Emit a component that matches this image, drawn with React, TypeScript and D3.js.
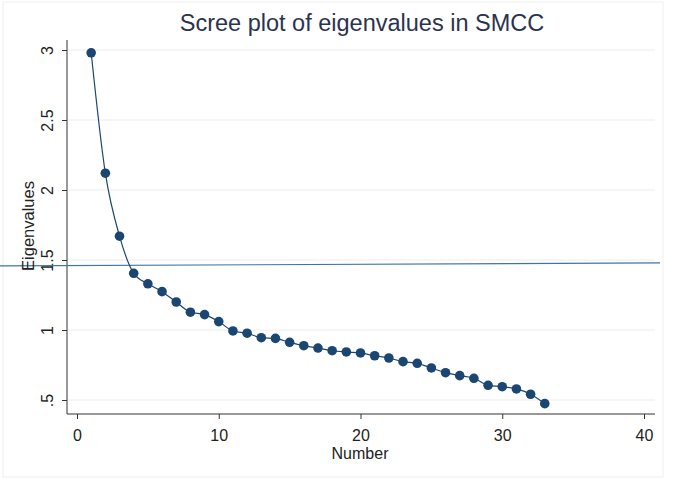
import React, { useEffect, useRef } from "react";
import * as d3 from "d3";

const numbers = d3.range(1, 34);
const eigenvalues = [
  2.98, 2.12, 1.67, 1.405, 1.33, 1.274, 1.2, 1.127, 1.11, 1.06, 0.993, 0.977,
  0.945, 0.94, 0.912, 0.888, 0.871, 0.852, 0.843, 0.836, 0.816, 0.8, 0.774,
  0.762, 0.729, 0.695, 0.674, 0.655, 0.605, 0.595, 0.579, 0.541, 0.474
];
const xTicks = [0, 10, 20, 30, 40];
const yTicks = [0.5, 1, 1.5, 2, 2.5, 3];
const yTickLabels = [".5", "1", "1.5", "2", "2.5", "3"];
const refLine = 1.465;

const width = 673;
const height = 480;
const plot = { left: 67, right: 655, top: 40, bottom: 414 };
const font = "Liberation Sans, Arial, sans-serif";
const navy = "#1b4672";

const draw = (node: SVGSVGElement) => {
  const svg = d3.select(node);
  svg.selectAll("*").remove();

  const x = d3.scaleLinear().domain([0, 40]).range([77, 644]);
  const y = d3.scaleLinear().domain([0.5, 3]).range([400, 50]);

  svg
    .append("rect")
    .attr("x", 3)
    .attr("y", 2)
    .attr("width", 660)
    .attr("height", 475)
    .attr("fill", "#fff")
    .attr("stroke", "#efefef");

  // grid
  svg
    .append("g")
    .selectAll("line")
    .data(yTicks)
    .enter()
    .append("line")
    .attr("x1", plot.left + 1)
    .attr("x2", plot.right)
    .attr("y1", d => y(d))
    .attr("y2", d => y(d))
    .attr("stroke", "#ececec")
    .attr("stroke-width", 1);

  // axes
  const xAxis = svg
    .append("g")
    .attr("transform", "translate(0," + plot.bottom + ")")
    .call(d3.axisBottom(x).tickValues(xTicks).tickSize(5).tickSizeOuter(0).tickFormat(d3.format("d")));
  xAxis.select(".domain").attr("d", `M${plot.left},0H${plot.right}`).attr("stroke", "#333");
  xAxis.selectAll("line").attr("stroke", "#333");
  xAxis
    .selectAll("text")
    .attr("font-family", font)
    .attr("font-size", 16)
    .attr("fill", "#222")
    .attr("y", 27)
    .attr("dy", 0);

  const yAxis = svg
    .append("g")
    .attr("transform", "translate(" + plot.left + ",0)")
    .call(
      d3
        .axisLeft(y)
        .tickValues(yTicks)
        .tickSize(5)
        .tickSizeOuter(0)
        .tickFormat((d, i) => yTickLabels[i])
    );
  yAxis.select(".domain").attr("d", `M0,${plot.top}V${plot.bottom}`).attr("stroke", "#333");
  yAxis.selectAll("line").attr("stroke", "#333");
  yAxis
    .selectAll("text")
    .attr("font-family", font)
    .attr("font-size", 16)
    .attr("fill", "#222")
    .attr("text-anchor", "middle")
    .attr("x", 0)
    .attr("dy", 0)
    .attr("transform", "translate(-14,0) rotate(-90)");

  // reference line
  svg
    .append("line")
    .attr("x1", 0)
    .attr("x2", 660)
    .attr("y1", y(refLine) + 1)
    .attr("y2", y(refLine) - 2)
    .attr("stroke", "#3f73ad")
    .attr("stroke-width", 1.2);

  const pts = numbers.map((n, i) => ({ n, v: eigenvalues[i] }));
  const line = d3
    .line<{ n: number; v: number }>()
    .x(d => x(d.n))
    .y(d => y(d.v))
    .curve(d3.curveMonotoneX);
  svg
    .append("path")
    .datum(pts)
    .attr("d", line)
    .attr("fill", "none")
    .attr("stroke", navy)
    .attr("stroke-width", 1.2);
  svg
    .append("g")
    .selectAll("circle")
    .data(pts)
    .enter()
    .append("circle")
    .attr("cx", d => x(d.n))
    .attr("cy", d => y(d.v))
    .attr("r", 4.8)
    .attr("fill", navy);

  // titles
  svg
    .append("text")
    .attr("x", 362)
    .attr("y", 31)
    .attr("text-anchor", "middle")
    .attr("font-family", font)
    .attr("font-size", 23.5)
    .attr("fill", "#2b3350")
    .text("Scree plot of eigenvalues in SMCC");
  svg
    .append("text")
    .attr("x", 360)
    .attr("y", 459)
    .attr("text-anchor", "middle")
    .attr("font-family", font)
    .attr("font-size", 16)
    .attr("fill", "#222")
    .text("Number");
  svg
    .append("text")
    .attr("transform", "translate(34,226) rotate(-90)")
    .attr("text-anchor", "middle")
    .attr("font-family", font)
    .attr("font-size", 16.5)
    .attr("fill", "#222")
    .text("Eigenvalues");
};

const App = () => {
  const ref = useRef<SVGSVGElement>(null);
  useEffect(() => {
    if (ref.current) draw(ref.current);
  }, []);
  return (
    <svg
      ref={ref}
      width={width}
      height={height}
      style={{ position: "absolute", left: 0, top: 0, background: "#fff" }}
    />
  );
};

export default App;
